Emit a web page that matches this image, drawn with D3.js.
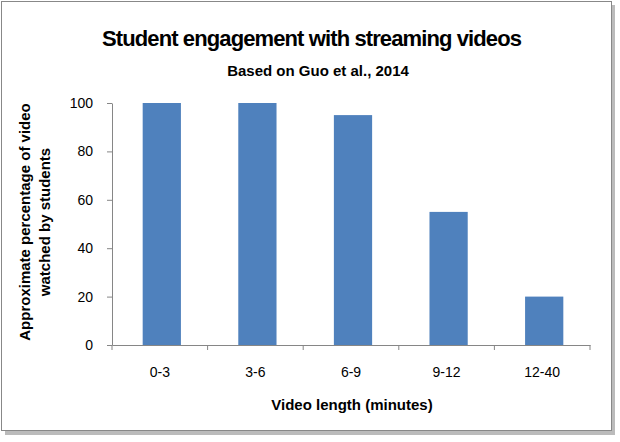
<!DOCTYPE html><html><head><meta charset="utf-8"><script src="https://cdn.jsdelivr.net/npm/d3@7"></script>
<style>body{margin:0;background:#fff}text{font-family:"Liberation Sans",Arial,sans-serif}</style></head><body><svg width="620" height="442"></svg>
<script>
const categories=["0-3","3-6","6-9","9-12","12-40"];
const values=[100,100,95,55,20];
const yTicks=[0,20,40,60,80,100];
const svg=d3.select("svg");
svg.append("rect").attr("x",5).attr("y",5).attr("width",610).attr("height",430).attr("fill","#bbb");
svg.append("rect").attr("x",1.5).attr("y",1.5).attr("width",610).attr("height",429).attr("fill","#fff").attr("stroke","#888");
const x=d3.scaleBand().domain(categories).range([112,590]).paddingInner(0.6).paddingOuter(0.3);
const y=d3.scaleLinear().domain([0,100]).range([345,103]);
svg.selectAll(".bar").data(values).join("rect").attr("x",(d,i)=>x(categories[i])+2).attr("width",x.bandwidth())
 .attr("y",d=>y(d)).attr("height",d=>345-y(d)).attr("fill","#4f81bd");
const ya=svg.append("g").attr("transform","translate(112,0)").call(d3.axisLeft(y).tickValues(yTicks).tickSize(5).tickPadding(14).tickSizeOuter(0));
const band=d3.scaleBand().domain(categories).range([112,590]);
const xa=svg.append("g").attr("transform","translate(0,345)").call(d3.axisBottom(band).tickSize(0));
xa.selectAll(".tick line").remove();
categories.forEach((c,i)=>{xa.append("line").attr("x1",band(c)).attr("x2",band(c)).attr("y1",0).attr("y2",5).attr("stroke","#868686");});
xa.append("line").attr("x1",590).attr("x2",590).attr("y1",0).attr("y2",5).attr("stroke","#868686");
[ya,xa].forEach(g=>{g.selectAll("path,line").attr("stroke","#868686");g.selectAll("text").attr("font-size",14).attr("fill","#000");});
xa.selectAll("text").attr("dy","2.1em");
svg.append("text").attr("x",312).attr("y",46).attr("text-anchor","middle").attr("font-size",22).attr("font-weight","bold").attr("textLength",420).text("Student engagement with streaming videos");
svg.append("text").attr("x",318).attr("y",76).attr("text-anchor","middle").attr("font-size",15).attr("font-weight","bold").text("Based on Guo et al., 2014");
svg.append("text").attr("x",352).attr("y",410).attr("text-anchor","middle").attr("font-size",15).attr("font-weight","bold").text("Video length (minutes)");
svg.append("text").attr("transform","translate(30,222) rotate(-90)").attr("text-anchor","middle").attr("font-size",15).attr("font-weight","bold").text("Approximate percentage of video");
svg.append("text").attr("transform","translate(50,222) rotate(-90)").attr("text-anchor","middle").attr("font-size",15).attr("font-weight","bold").text("watched by students");
</script></body></html>
